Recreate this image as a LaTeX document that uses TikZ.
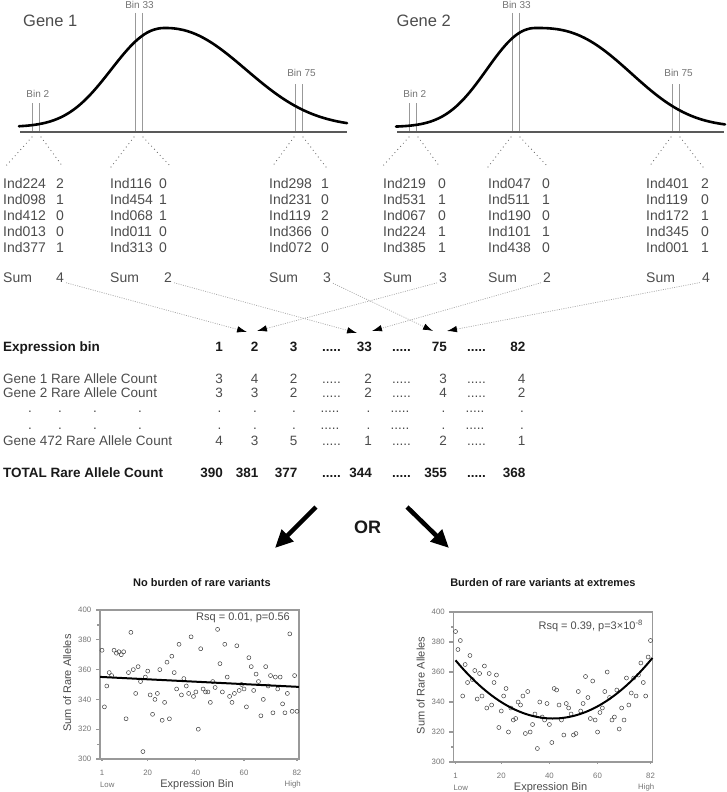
\documentclass[tikz,border=0pt]{standalone}
\usepackage{fontspec}
\setmainfont{Liberation Sans}
\usetikzlibrary{arrows.meta}

\definecolor{inktext}{gray}{0.3}
\definecolor{inkbold}{gray}{0.1}
\definecolor{inklight}{gray}{0.45}
\definecolor{inkframe}{gray}{0.6}

% right edges of the bin columns in the table
\newcommand\colpos{{223,258.5,297.5,341,372,411,447,486,525.5}}
\newcommand\bingap{.....}
\newcommand\bindot{.}

% frame, ticks and axis labels of one scatter plot (data coordinates)
\newcommand\plotaxes[1]{%
  \draw[plotframe] (0.2,300) rectangle (82.8,400);
  \foreach \tk in {300,320,...,400} {
    \draw[plotframe] (0.2,\tk) -- (-1.6,\tk);
    \node[ticklabel,anchor=east] (#1-y\tk) at (-3.4,\tk) {\tk};
  }
  \foreach \tk in {310,390}
    \draw[plotframe] (0.2,\tk) -- (-0.9,\tk);
  \foreach \tk in {1,20,40,60,82} {
    \draw[plotframe] (\tk,300) -- (\tk,298.4);
    \node[ticklabel] (#1-x\tk) at (\tk,290.8) {\tk};
  }
  \node[ticklabel] (#1-low) at (3.2,282.8) {Low};
  \node[ticklabel] (#1-high) at (80.2,282.8) {High};
  \node[axlabel] (#1-xlab) at (40.5,283) {Expression Bin};
  \node[axlabel,rotate=90] (#1-ylab) at (-13.5,351) {Sum of Rare Alleles};
}

\begin{document}
\begin{tikzpicture}[x=1pt,y=-1pt,
    gene/.style={font=\fontsize{16.5}{18}\selectfont,text=inktext,anchor=base west,inner sep=0pt},
    binlabel/.style={font=\fontsize{10}{12}\selectfont,text=inklight,anchor=base,inner sep=0pt},
    binline/.style={draw=black!40,line width=0.8pt},
    profile/.style={line width=2.6pt,line cap=round},
    geneaxis/.style={draw=black!65,line width=1.3pt},
    tent/.style={draw=black!60,line width=1.2pt,line cap=round,dash pattern=on 0pt off 4.2pt},
    ind/.style={font=\fontsize{14}{17}\selectfont,text=inktext,anchor=base west,inner sep=0pt},
    score/.style={font=\fontsize{14}{17}\selectfont,text=inktext,anchor=base,inner sep=0pt},
    link/.style={draw=black!35,line width=0.7pt,dash pattern=on 1pt off 1.3pt,shorten <=2pt,
      -{Latex[color=black,length=10pt,width=6.5pt]}},
    rowlabel/.style={font=\fontsize{13.5}{16}\selectfont,text=inktext,anchor=base west,inner sep=0pt},
    cell/.style={font=\fontsize{13.5}{16}\selectfont,text=inktext,anchor=base east,inner sep=0pt},
    boldrow/.style={rowlabel,font=\fontsize{13.5}{16}\selectfont\bfseries,text=inkbold},
    boldcell/.style={cell,font=\fontsize{13.5}{16}\selectfont\bfseries,text=inkbold},
    bigarrow/.style={line width=4.5pt,-{Triangle[length=18pt,width=16pt]}},
    plottitle/.style={font=\fontsize{11}{13}\selectfont\bfseries,text=inkbold,inner sep=0pt},
    plotframe/.style={draw=inkframe,line width=1.2pt},
    ticklabel/.style={font=\fontsize{7.8}{9}\selectfont,text=inklight,inner sep=0pt},
    axlabel/.style={font=\fontsize{11}{13}\selectfont,text=inktext,inner sep=0pt},
    rsq/.style={font=\fontsize{11}{13}\selectfont,text=inktext,anchor=east,inner sep=0pt},
    datapt/.style={draw=black!75,line width=0.5pt},
    trend/.style={line width=2pt}]

\useasboundingbox (0,0) rectangle (726,792);

% expression profiles with the three bins
\foreach \g/\dx in {1/0,2/377} {
  \begin{scope}[xshift=\dx]
    \foreach \b/\xl/\top/\lx/\ly in {2/32/103/37.8/97.6, 33/135/13/139.5/8.6, 75/295/84/301.5/76.6} {
      \draw[binline] (\xl,\top) -- (\xl,132);
      \draw[binline] ({\xl+7},\top) -- ({\xl+7},132);
      \node[binlabel] (g\g-bin\b) at (\lx,\ly) {Bin \b};
    }
    \draw[geneaxis] (20,132) -- (347,132);
    % dotted fans down to the individuals
    \foreach \xl/\dl/\dr in {32/-27/22, 134/-23/28, 294/-22/23} {
      \draw[tent] (\xl,137) -- ++(\dl,30);
      \draw[tent] ({\xl+9},137) -- ++(\dr,30);
    }
  \end{scope}
}
\draw[profile] plot[domain=19:165,samples=50] (\x,{127-99*exp(-pow((165.01-\x)/71,2.2))})
  -- plot[domain=165:347,samples=60] (\x,{127-99*exp(-pow((\x-164.99)/106.7,2.2))});
\draw[profile] plot[domain=396:536,samples=50] (\x,{127-99*exp(-pow((536.01-\x)/65,2.2))})
  -- plot[domain=536:725,samples=60] (\x,{127-99*exp(-pow((\x-535.99)/115,2.6))});
\node[gene] (gene1) at (23,27) {Gene 1};
\node[gene] (gene2) at (396.5,27) {Gene 2};

% individuals in each bin
\foreach \grp/\ix/\nx/\sx/\total/\list in {
    g1b2/3/60/60/4/{Ind224/2,Ind098/1,Ind412/0,Ind013/0,Ind377/1},
    g1b33/110/163/168/2/{Ind116/0,Ind454/1,Ind068/1,Ind011/0,Ind313/0},
    g1b75/269/325/327/3/{Ind298/1,Ind231/0,Ind119/2,Ind366/0,Ind072/0},
    g2b2/383/442/443/3/{Ind219/0,Ind531/1,Ind067/0,Ind224/1,Ind385/1},
    g2b33/488/546/547/2/{Ind047/0,Ind511/1,Ind190/0,Ind101/1,Ind438/0},
    g2b75/646/705/706/4/{Ind401/2,Ind119/0,Ind172/1,Ind345/0,Ind001/1}} {
  \foreach \ind/\n [count=\r] in \list {
    \node[ind] (\grp-ind\r) at (\ix,{172.5+16*\r}) {\ind};
    \node[score] (\grp-n\r) at (\nx,{172.5+16*\r}) {\n};
  }
  \node[ind] (\grp-sumlabel) at (\ix,282) {Sum};
  \node[score] (\grp-sum) at (\sx,282) {\total};
}

% sums go to their expression bin
\coordinate (g1b2-in) at (247,332);
\coordinate (g2b2-in) at (257,331);
\coordinate (g1b33-in) at (357,333);
\coordinate (g2b33-in) at (372,331);
\coordinate (g1b75-in) at (433,331);
\coordinate (g2b75-in) at (447,331);
\draw[link] (g1b2-sum.south east) -- (g1b2-in);
\draw[link] (g2b2-sum.south west) -- (g2b2-in);
\draw[link] (g1b33-sum.south east) -- (g1b33-in);
\draw[link] (g2b33-sum.south west) -- (g2b33-in);
\draw[link] (g1b75-sum.south east) -- (g1b75-in);
\draw[link] (g2b75-sum.south west) -- (g2b75-in);

% table of rare allele counts
\node[boldrow] (head-label) at (3,351.7) {Expression bin};
\foreach \val [count=\col from 0] in {1,2,3,\bingap,33,\bingap,75,\bingap,82} {
  \pgfmathsetmacro\cx{\colpos[\col]}
  \node[boldcell] (head-\col) at (\cx,351.7) {\val};
}
\foreach \key/\y/\rowname/\vals in {
    g1/383.3/Gene 1 Rare Allele Count/{3,4,2,\bingap,2,\bingap,3,\bingap,4},
    g2/397.7/Gene 2 Rare Allele Count/{3,3,2,\bingap,2,\bingap,4,\bingap,2},
    g472/445.7/Gene 472 Rare Allele Count/{4,3,5,\bingap,1,\bingap,2,\bingap,1}} {
  \node[rowlabel] (\key-label) at (3,\y) {\rowname};
  \foreach \val [count=\col from 0] in \vals {
    \pgfmathsetmacro\cx{\colpos[\col]}
    \node[cell] (\key-\col) at (\cx,\y) {\val};
  }
}
\foreach \y [count=\k] in {412.5,429} {
  \foreach \x [count=\j] in {30,60,95,140}
    \node[cell,anchor=base] (dots\k-l\j) at (\x,\y) {\bindot};
  \foreach \val [count=\col from 0] in {\bindot,\bindot,\bindot,\bingap,\bindot,\bingap,\bindot,\bingap,\bindot} {
    \pgfmathsetmacro\cx{\colpos[\col]-1.5}
    \node[cell] (dots\k-\col) at (\cx,\y) {\val};
  }
}
\node[boldrow] (total-label) at (3,477.7) {TOTAL Rare Allele Count};
\foreach \val [count=\col from 0] in {390,381,377,\bingap,344,\bingap,355,\bingap,368} {
  \pgfmathsetmacro\cx{\colpos[\col]}
  \node[boldcell] (total-\col) at (\cx,477.7) {\val};
}

% the two outcomes
\node[font=\fontsize{18}{20}\selectfont\bfseries,text=inkbold,inner sep=0pt] (or) at (367.5,527) {OR};
\coordinate (nb-from) at (316,507);
\coordinate (nb-to) at (275,548);
\coordinate (ex-from) at (407,507);
\coordinate (ex-to) at (449,548);
\draw[bigarrow] (nb-from) -- (nb-to);
\draw[bigarrow] (ex-from) -- (ex-to);

% no burden of rare variants
\begin{scope}[shift={(99.59pt,-1206pt)},x=2.4074pt,y=1.49pt]
  \plotaxes{nb}
  \foreach \val [count=\i] in {373,335,349,358,356,373,371,372,370,372,
      327,358,385,360,344,362,352,305,355,359,343,330,340,344,360,326,338,365,327,369,
      358,347,377,343,354,349,344,382,342,345,320,374,347,345,345,338,352,348,387,364,
      345,377,355,342,338,344,376,346,350,347,335,368,362,346,357,352,329,340,362,349,
      356,331,355,347,355,337,331,344,384,332,356,332}
    \draw[datapt] (\i,\val) circle[radius=2pt];
  \draw[trend] (0.2,355.1) -- (82.8,348.4);
  \node[rsq] (nb-rsq) at (79.1,394.6) {Rsq = 0.01, p=0.56};
  \node[plottitle] (nb-title) at (42.5,418.1) {No burden of rare variants};
\end{scope}

% burden of rare variants at extremes
\begin{scope}[shift={(453.1pt,-1212pt)},x=2.4074pt,y=1.5pt]
  \plotaxes{ex}
  \foreach \val [count=\i] in {387,375,381,344,365,353,371,355,361,342,
      359,344,364,336,359,338,353,358,323,334,344,349,320,336,328,329,340,338,344,319,
      347,320,325,332,309,340,330,328,339,325,313,349,348,338,328,318,339,336,332,318,
      319,347,334,339,357,343,329,354,328,320,333,336,347,360,343,328,330,348,322,336,
      328,356,338,346,356,344,358,366,353,344,370,381}
    \draw[datapt] (\i,\val) circle[radius=2pt];
  \draw[trend] plot[domain=1:82.8,samples=60] (\x,{329+0.02366*(\x-41.5)*(\x-41.5)});
  \node[rsq] (ex-rsq) at (78.9,390.7) {Rsq = 0.39, p=3×10\textsuperscript{-8}};
  \node[plottitle] (ex-title) at (37.3,419.3) {Burden of rare variants at extremes};
\end{scope}
\end{tikzpicture}
\end{document}
